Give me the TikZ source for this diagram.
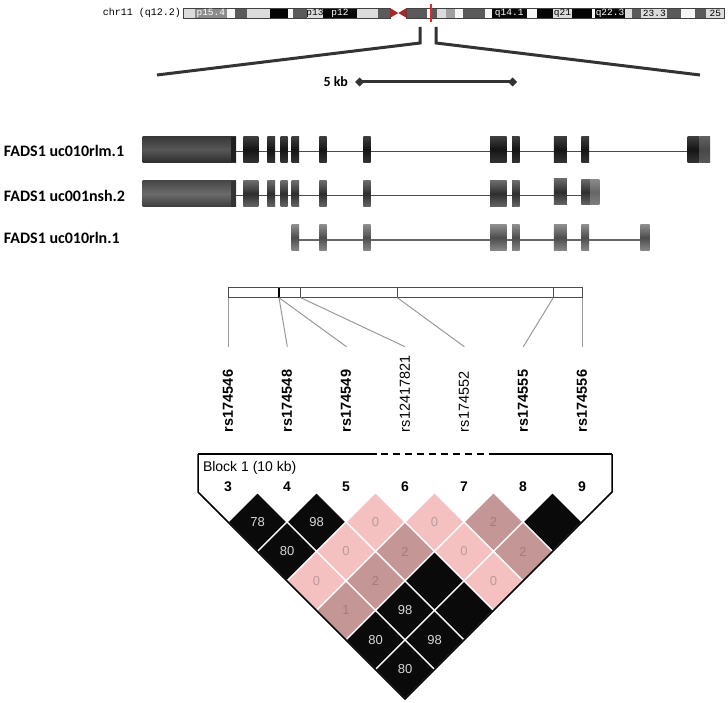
\documentclass[tikz,border=0pt]{standalone}
\usepackage{fontspec}
\usetikzlibrary{shapes.geometric}
\setmainfont{Liberation Sans}
\newfontfamily\calfont{Carlito}
\newfontfamily\monofont{Liberation Mono}
\definecolor{ldblack}{HTML}{0A0A0A}
\definecolor{ldpink}{HTML}{F4C0C0}
\definecolor{lddusty}{HTML}{C49696}
\definecolor{txtblack}{HTML}{D6D6D6}
\definecolor{txtpink}{HTML}{B89C9C}
\definecolor{txtdusty}{HTML}{A47C7C}
\definecolor{bandW}{HTML}{F6F6F6}
\definecolor{bandL}{HTML}{DCDCDC}
\definecolor{bandM}{HTML}{A0A0A0}
\definecolor{bandG}{HTML}{8C8C8C}
\definecolor{bandD}{HTML}{5A5A5A}
\definecolor{bandK}{HTML}{050505}
\definecolor{centro}{HTML}{9E2A2A}
\definecolor{redmark}{HTML}{E8262A}
\definecolor{zoomline}{HTML}{333333}
\definecolor{intron}{HTML}{4A4A4A}
\definecolor{snpline}{HTML}{9A9A9A}
\tikzset{
  band/.style={fill=#1},
  bandtxt/.style={font=\monofont\fontsize{9.5}{10}\selectfont, text=#1},
  genelab/.style={anchor=base west, font=\calfont\bfseries\fontsize{16}{19}\selectfont},
  intronline/.style={draw=intron, line width=1.6pt},
  exA/.style={top color=black!76, bottom color=black!80, middle color=black!92},
  blkA/.style={top color=black!78, bottom color=black!82, middle color=black!66},
  exB/.style={top color=black!58, bottom color=black!60, middle color=black!82},
  blkB/.style={top color=black!72, bottom color=black!76, middle color=black!58},
  exC/.style={top color=black!44, bottom color=black!46, middle color=black!70},
  tailA/.style={top color=black!62, bottom color=black!66, middle color=black!72},
  tailB/.style={top color=black!46, bottom color=black!50, middle color=black!60},
  zoomln/.style={draw=zoomline, line width=3pt},
  snplab/.style={rotate=90, anchor=west, font=\bfseries\fontsize{14.5}{16}\selectfont},
  snplabn/.style={rotate=90, anchor=west, font=\fontsize{14.5}{16}\selectfont},
  snpconn/.style={draw=snpline, line width=1pt},
  ldnum/.style={font=\bfseries\fontsize{14}{16}\selectfont},
  cell/.style={draw=white, line width=1.3pt, fill=#1},
  celltxt/.style={font=\fontsize{13}{15}\selectfont, text=#1},
  every node/.style={inner sep=0pt, outer sep=0pt}
}
\begin{document}
\begin{tikzpicture}[x=1pt,y=-1pt]
\useasboundingbox (0,0) rectangle (728,703);
\fill[white] (0,0) rectangle (728,703);

%% ---------- chromosome ideogram ----------
\node[anchor=east, font=\monofont\fontsize{10}{12}\selectfont] (chrlab) at (181,13) {chr11 (q12.2)};
\foreach \a/\b/\c in {183.3/195/bandL, 195/226.7/bandG, 226.7/235/bandW, 235/246.7/bandD,
  246.7/270/bandL, 270/288.3/bandK, 288.3/293.3/bandW, 293.3/306.7/bandD, 306.7/323.3/bandL,
  323.3/356.7/bandK, 356.7/378.3/bandL, 378.3/390/bandD,
  406.7/426.7/bandD, 426.7/431.7/bandW, 431.7/437/bandD, 437/446/bandL, 446/455/bandM,
  455/463.3/bandW, 463.3/485/bandD, 485/491.7/bandW, 491.7/526.7/bandK, 526.7/536.7/bandW,
  536.7/553.3/bandK, 553.3/571.7/bandL, 571.7/591.7/bandK, 591.7/595/bandW, 595/625/bandK,
  625/631.7/bandL, 631.7/641.3/bandD, 641.3/667.3/bandL, 667.3/681.3/bandD, 681.3/694.7/bandW,
  694.7/706.3/bandD, 706.3/724.5/bandL}
  \fill[band=\c] (\a,8) rectangle (\b,18);
\draw[black!75, line width=0.6pt] (183.3,8) rectangle (390,18);
\draw[black!75, line width=0.6pt] (406.7,8) rectangle (724.5,18);
\fill[centro] (390,8) -- (398.3,13) -- (390,18) -- cycle;
\fill[centro] (406.7,8) -- (398.3,13) -- (406.7,18) -- cycle;
\node[bandtxt=white] (b1) at (210.8,13.2) {p15.4};
\node[bandtxt=black] (b2) at (315,13.2) {p13};
\node[bandtxt=white] (b3) at (340,13.2) {p12};
\node[bandtxt=white] (b4) at (509.2,13.2) {q14.1};
\node[bandtxt=black] (b5) at (562.5,13.2) {q21};
\node[bandtxt=white] (b6) at (610,13.2) {q22.3};
\node[bandtxt=black] (b7) at (654.3,13.2) {23.3};
\node[bandtxt=black] (b8) at (715.4,13.2) {25};
\coordinate (rtop) at (430.8,4);
\coordinate (rbot) at (430.8,22);
\draw[redmark, line width=2.2pt] (rtop) -- (rbot);

%% ---------- zoom lines ----------
\coordinate (zl1) at (157,75);
\coordinate (zl2) at (420,43);
\coordinate (zl3) at (420,27);
\coordinate (zr1) at (436,27);
\coordinate (zr2) at (436,43);
\coordinate (zr3) at (700,75);
\draw[zoomln] (zl1) -- (zl2) -- (zl3);
\draw[zoomln] (zr1) -- (zr2) -- (zr3);

%% ---------- scale bar ----------
\node[anchor=east, font=\calfont\bfseries\fontsize{14}{16}\selectfont] (kb) at (348,82) {5 kb};
\node[diamond, fill=zoomline, minimum width=9pt, minimum height=9pt] (sbl) at (359.5,82) {};
\node[diamond, fill=zoomline, minimum width=9pt, minimum height=9pt] (sbr) at (512.5,82) {};
\draw[zoomln] (sbl.center) -- (sbr.center);

%% ---------- gene tracks ----------
\node[genelab] (g1) at (4,157) {FADS1 uc010rlm.1};
\node[genelab] (g2) at (4,201.5) {FADS1 uc001nsh.2};
\node[genelab] (g3) at (4,243.5) {FADS1 uc010rln.1};

% track 1
\coordinate (t1a) at (236,151.5);
\coordinate (t1b) at (688,151.5);
\draw[intronline] (t1a) -- (t1b);
\shade[blkA] (142.7,136.7) rectangle (236,162.3);
\fill[black!88] (231,136.7) rectangle (236,162.3);
\foreach \a/\b in {243.3/258.3, 267.3/275, 280.7/287.7, 291.7/299, 319.3/326.7, 363.3/370.7,
  490.2/506.5, 512/519.5, 553.9/566.9, 581.3/589.2, 687.7/699.4}
  \shade[exA] (\a,136.7) rectangle (\b,162.3);
\shade[tailA] (699.4,136.7) rectangle (710,162.3);

% track 2
\coordinate (t2a) at (236,195.7);
\coordinate (t2b) at (582,195.7);
\draw[intronline] (t2a) -- (t2b);
\shade[blkB] (142.7,180.7) rectangle (236,206.7);
\fill[black!80] (231,180.7) rectangle (236,206.7);
\foreach \a/\b in {243.3/258.3, 267.3/275, 280.7/287.7, 291.7/299, 319.3/326.7, 363.3/370.7,
  490.2/506.5, 512/519.5}
  \shade[exB] (\a,180.7) rectangle (\b,206.7);
\shade[exB] (553.9,178.7) rectangle (566.9,205);
\shade[exB] (581.3,179.3) rectangle (590.1,205);
\shade[tailB] (590.1,179.3) rectangle (599.4,205);

% track 3
\coordinate (t3a) at (299,240);
\coordinate (t3b) at (640.3,240);
\draw[intronline, draw=black!60] (t3a) -- (t3b);
\foreach \a/\b in {291.7/299, 319.3/326.7, 363.3/370.7, 490.2/506.5, 512/519.5,
  553.9/566.9, 581.3/589.2, 640.3/649.6}
  \shade[exC] (\a,224.3) rectangle (\b,251);

%% ---------- SNP map bar ----------
\coordinate (barA) at (228.3,287.7);
\coordinate (barB) at (582.7,297.7);
\draw[black!70, line width=0.8pt] (barA) rectangle (barB);
\foreach \x in {300.7, 397.3, 553.3}
  \draw[black!70, line width=0.8pt] (\x,287.7) -- (\x,297.7);
\draw[black, line width=1.6pt] (279,287.7) -- (279,297.7);

\coordinate (k1) at (228.3,297.7);
\coordinate (k2) at (279,297.7);
\coordinate (k4) at (300.7,297.7);
\coordinate (k5) at (397.3,297.7);
\coordinate (k6) at (553.3,297.7);
\coordinate (k7) at (582.7,297.7);
\coordinate (e1) at (228.3,346.7);
\coordinate (e2) at (287.3,346.7);
\coordinate (e3) at (346.5,346.7);
\coordinate (e4) at (405,346.7);
\coordinate (e5) at (464.3,346.7);
\coordinate (e6) at (523.3,346.7);
\coordinate (e7) at (582.7,346.7);
\draw[snpconn] (k1) -- (e1);
\draw[snpconn] (k2) -- (e2);
\draw[snpconn] (k2) -- (e3);
\draw[snpconn] (k4) -- (e4);
\draw[snpconn] (k5) -- (e5);
\draw[snpconn] (k6) -- (e6);
\draw[snpconn] (k7) -- (e7);

\node[snplab] (s1) at (228,432) {rs174546};
\node[snplab] (s2) at (287,432) {rs174548};
\node[snplab] (s3) at (346,432) {rs174549};
\node[snplabn] (s4) at (405,432) {rs12417821};
\node[snplabn] (s5) at (464,432) {rs174552};
\node[snplab] (s6) at (523,432) {rs174555};
\node[snplab] (s7) at (582,432) {rs174556};

%% ---------- LD plot ----------
\foreach \i/\j/\c/\t in {0/1/ldblack/78, 1/2/ldblack/98, 2/3/ldpink/0, 3/4/ldpink/0, 4/5/lddusty/2, 5/6/ldblack/,
  0/2/ldblack/80, 1/3/ldpink/0, 2/4/lddusty/2, 3/5/ldpink/0, 4/6/lddusty/2,
  0/3/ldpink/0, 1/4/lddusty/2, 2/5/ldblack/, 3/6/ldpink/0,
  0/4/lddusty/1, 1/5/ldblack/98, 2/6/ldblack/,
  0/5/ldblack/80, 1/6/ldblack/98,
  0/6/ldblack/80}
{
  \pgfmathsetmacro{\cx}{228+29.5*(\i+\j)}
  \pgfmathsetmacro{\cy}{522+29.5*(\j-\i-1)}
  \draw[cell=\c] (\cx-29.5,\cy) -- (\cx,\cy-29.5) -- (\cx+29.5,\cy) -- (\cx,\cy+29.5) -- cycle;
}
\foreach \i/\j/\c/\t in {0/1/txtblack/78, 1/2/txtblack/98, 2/3/txtpink/0, 3/4/txtpink/0, 4/5/txtdusty/2,
  0/2/txtblack/80, 1/3/txtpink/0, 2/4/txtdusty/2, 3/5/txtpink/0, 4/6/txtdusty/2,
  0/3/txtpink/0, 1/4/txtdusty/2, 3/6/txtpink/0,
  0/4/txtdusty/1, 1/5/txtblack/98,
  0/5/txtblack/80, 1/6/txtblack/98,
  0/6/txtblack/80}
{
  \pgfmathsetmacro{\cx}{228+29.5*(\i+\j)}
  \pgfmathsetmacro{\cy}{522+29.5*(\j-\i-1)}
  \node[celltxt=\c] (c\i\j) at (\cx,\cy) {\t};
}

% outline
\coordinate (o1) at (198,454);
\coordinate (o2) at (198,492);
\coordinate (o3) at (405,699);
\coordinate (o4) at (612,492);
\coordinate (o5) at (612,454);
\draw[black, line width=1.5pt, line join=miter] (o1) -- (o2) -- (o3) -- (o4) -- (o5);
\coordinate (d1) at (377,454);
\coordinate (d2) at (492,454);
\draw[black, line width=2.5pt] (o1) -- (d1);
\draw[black, line width=2.5pt] (d2) -- (o5);
\draw[black, line width=2.5pt, dash pattern=on 7pt off 5pt] (d1) ++(4,0) -- (d2);

\node[anchor=west, font=\fontsize{14}{16}\selectfont] (blk) at (203,468) {Block 1 (10 kb)};
\foreach \n/\x in {3/228, 4/287, 5/346, 6/405, 7/464, 8/523, 9/582}
  \node[ldnum] (m\n) at (\x,487) {\n};
\end{tikzpicture}
\end{document}
